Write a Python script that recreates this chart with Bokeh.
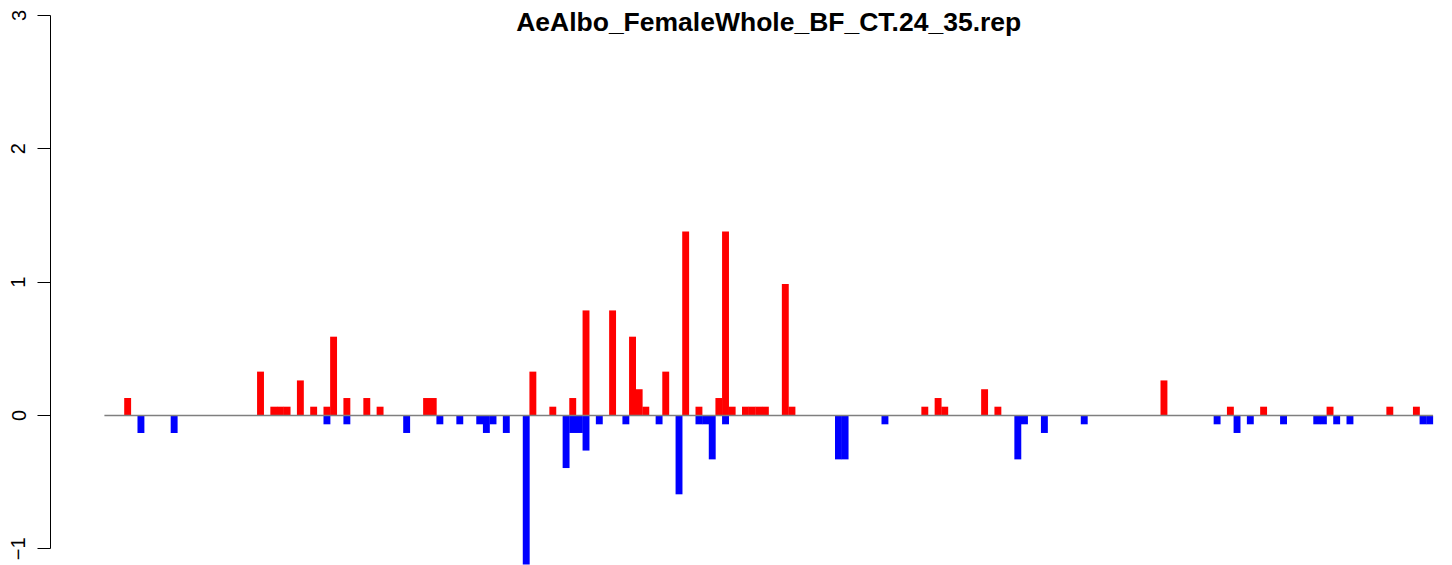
from bokeh.plotting import figure
from bokeh.models import Range1d, FixedTicker, Label
from bokeh.embed import file_html
from bokeh.resources import INLINE

# ---- data ----
title_text = "AeAlbo_FemaleWhole_BF_CT.24_35.rep"
n_bars = 200
y_ticks = [-1, 0, 1, 2, 3]
y_tick_labels = {-1: "\u22121", 0: "0", 1: "1", 2: "2", 3: "3"}

red_index = [3, 23, 25, 26, 27, 29, 31, 33, 34, 36, 39, 41, 48, 49,
             64, 67, 70, 72, 76, 79, 80, 81, 84, 87, 89, 92, 93, 94,
             96, 97, 98, 99, 102, 103, 123, 125, 126, 132, 134,
             159, 169, 174, 184, 193, 197]
red_value = [0.131, 0.329, 0.066, 0.066, 0.066, 0.263, 0.066, 0.066, 0.591, 0.131, 0.131, 0.066, 0.131, 0.131,
             0.329, 0.066, 0.131, 0.788, 0.788, 0.591, 0.197, 0.066, 0.329, 1.380, 0.066, 0.131, 1.380, 0.066,
             0.066, 0.066, 0.066, 0.066, 0.986, 0.066, 0.066, 0.131, 0.066, 0.197, 0.066,
             0.263, 0.066, 0.066, 0.066, 0.066, 0.066]

blue_index = [5, 10, 33, 36, 45, 50, 53, 56, 57, 58, 60, 63, 69, 70, 71, 72,
              74, 78, 83, 86, 89, 90, 91, 93, 110, 111, 117, 137, 138, 141, 147,
              167, 170, 172, 177, 182, 183, 185, 187, 198, 199]
blue_value = [-0.131, -0.131, -0.066, -0.066, -0.131, -0.066, -0.066, -0.066, -0.131, -0.066, -0.131, -1.117, -0.394, -0.131, -0.131, -0.263,
              -0.066, -0.066, -0.066, -0.591, -0.066, -0.066, -0.329, -0.066, -0.329, -0.329, -0.066, -0.329, -0.066, -0.131, -0.066,
              -0.066, -0.131, -0.066, -0.066, -0.066, -0.066, -0.066, -0.066, -0.066, -0.066]

# ---- layout geometry (pixels) ----
W, H = 1452, 565
PAGE = 0
frame_left_px = 50          # window x of the y axis line
bar_start_px = 103.9        # window x of the first bar's left edge
bar_px = 6.643              # pixel width of one bar
zero_px = 415.0             # window y of value 0
unit_px = 133.35            # pixels per 1.0 on y

x0 = (frame_left_px - bar_start_px) / bar_px
x1 = (PAGE + W - bar_start_px) / bar_px
y_top = (zero_px - PAGE) / unit_px
y_bot = (zero_px - (PAGE + H)) / unit_px

p = figure(width=W, height=H,
           x_range=Range1d(x0, x1), y_range=Range1d(y_bot, y_top),
           x_axis_location=None, y_axis_location="left",
           min_border_left=frame_left_px - PAGE, min_border_right=0,
           min_border_top=0, min_border_bottom=0,
           output_backend="svg", toolbar_location=None)
p.outline_line_color = None
p.grid.visible = False
p.background_fill_color = "white"
p.border_fill_color = "white"

ax = p.yaxis[0]
ax.ticker = FixedTicker(ticks=y_ticks)
ax.bounds = (min(y_ticks), max(y_ticks))
ax.major_label_overrides = y_tick_labels
ax.major_tick_in = 0
ax.major_tick_out = 13
ax.minor_tick_in = 0
ax.minor_tick_out = 0
ax.axis_line_color = "black"
ax.axis_line_width = 1
ax.major_tick_line_color = "black"
ax.major_label_orientation = "vertical"
ax.major_label_standoff = 12
ax.major_label_text_font = "Liberation Sans"
ax.major_label_text_font_size = "20px"
ax.major_label_text_color = "black"

bar_w = 1.04  # slight overlap so adjacent bars merge without seams
p.vbar(x=[i + 0.5 for i in red_index], width=bar_w, top=red_value, bottom=0,
       fill_color="#FF0000", line_color=None)
p.vbar(x=[i + 0.5 for i in blue_index], width=bar_w, top=blue_value, bottom=0,
       fill_color="#0000FF", line_color=None)

p.segment(x0=[0], y0=[0], x1=[n_bars], y1=[0], line_color="#7f7f7f", line_width=1.4)

title = Label(x=n_bars / 2, y=(zero_px - 21) / unit_px, text=title_text,
              text_align="center", text_baseline="alphabetic",
              text_font="Liberation Sans", text_font_style="bold",
              text_font_size="26.5px", text_color="black")
p.add_layout(title)

open("out.html", "w").write(file_html(p, INLINE))
